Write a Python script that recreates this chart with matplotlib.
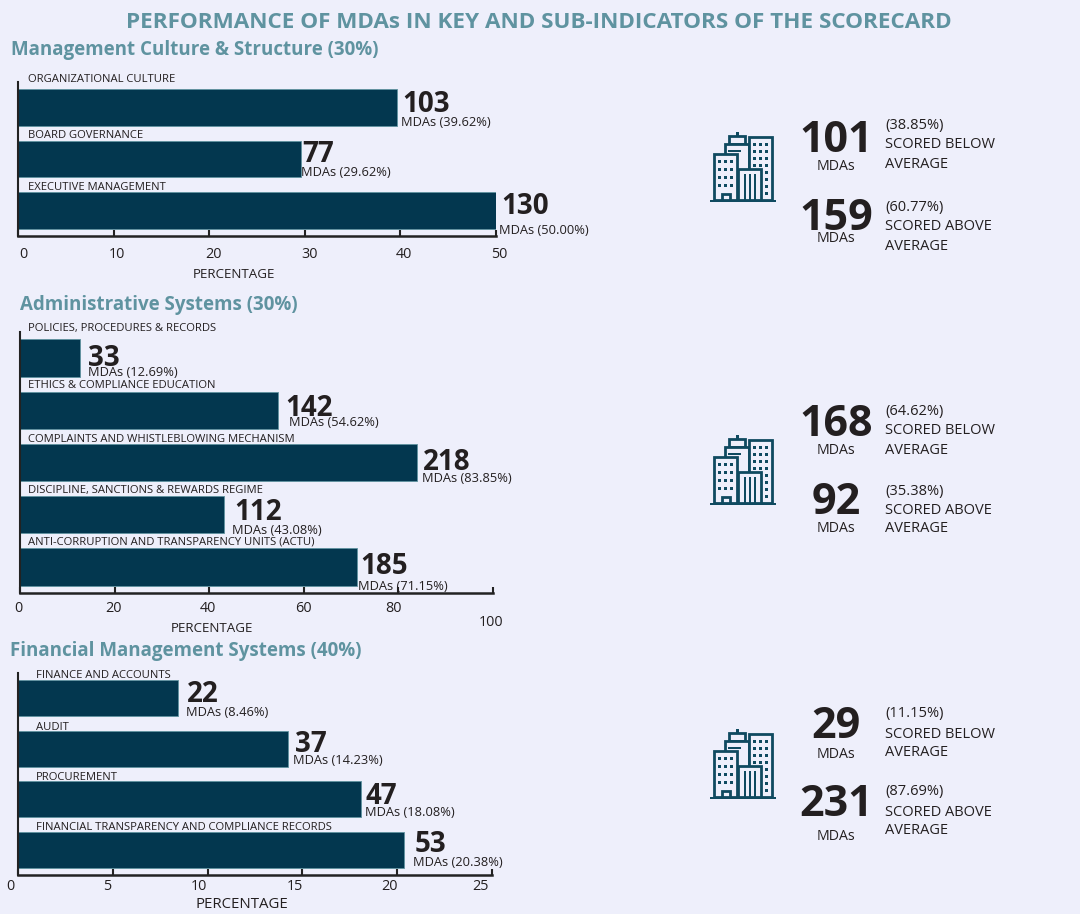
"""Scorecard infographic: MDAs per sub-indicator, three panels plus summary blocks."""

import matplotlib
matplotlib.use("Agg")
import matplotlib.pyplot as plt
from matplotlib.patches import Rectangle

BG = "#EEEFFB"
BAR = "#03374F"
TEAL = "#5F93A0"
INK = "#231F20"
ICON = "#0F4A60"
W, H = 1080, 914

plt.rcParams["font.family"] = ["Open Sans", "DejaVu Sans"]

# --- data ---
title = "PERFORMANCE OF MDAs IN KEY AND SUB-INDICATORS OF THE SCORECARD"

headings = ["Management Culture & Structure (30%)", "Administrative Systems (30%)",
            "Financial Management Systems (40%)"]

culture_labels = ["ORGANIZATIONAL CULTURE", "BOARD GOVERNANCE", "EXECUTIVE MANAGEMENT"]
culture_counts = [103, 77, 130]
culture_pct = [39.62, 29.62, 50.00]
culture_ticks = [0, 10, 20, 30, 40, 50]

admin_labels = ["POLICIES, PROCEDURES & RECORDS", "ETHICS & COMPLIANCE EDUCATION",
                "COMPLAINTS AND WHISTLEBLOWING MECHANISM", "DISCIPLINE, SANCTIONS & REWARDS REGIME",
                "ANTI-CORRUPTION AND TRANSPARENCY UNITS (ACTU)"]
admin_counts = [33, 142, 218, 112, 185]
admin_pct = [12.69, 54.62, 83.85, 43.08, 71.15]
admin_ticks = [0, 20, 40, 60, 80, 100]

finance_labels = ["FINANCE AND ACCOUNTS", "AUDIT", "PROCUREMENT",
                  "FINANCIAL TRANSPARENCY AND COMPLIANCE RECORDS"]
finance_counts = [22, 37, 47, 53]
finance_pct = [8.46, 14.23, 18.08, 20.38]
finance_ticks = [0, 5, 10, 15, 20, 25]

below_counts = [101, 168, 29]
below_pct = [38.85, 64.62, 11.15]
above_counts = [159, 92, 231]
above_pct = [60.77, 35.38, 87.69]

# --- layout, in reference pixels ---
panels = [
    dict(labels=culture_labels, counts=culture_counts, pct=culture_pct, ticks=culture_ticks,
         box=(18, 496, 82, 236), head=(11, 50), xlabel=(234, 274), xlabel_size=9.6,
         label_x=28, label_y=[79, 135, 188],
         num_xy=[(402, 105), (302, 155), (501, 207)],
         sub_xy=[(401, 122), (301, 172), (499, 230)],
         tick_x=[23, 117, 213, 310, 404, 499], tick_y=[254] * 6),
    dict(labels=admin_labels, counts=admin_counts, pct=admin_pct, ticks=admin_ticks,
         box=(20, 493, 332, 593), head=(20, 305), xlabel=(212, 628), xlabel_size=9.6,
         label_x=28, label_y=[329, 386, 439, 490, 542],
         num_xy=[(88, 358), (285, 408), (423, 462), (234, 513), (360, 567)],
         sub_xy=[(88, 373), (289, 423), (422, 478), (232, 530), (358, 586)],
         tick_x=[18, 114, 208, 303, 394, 491], tick_y=[609] * 5 + [622]),
    dict(labels=finance_labels, counts=finance_counts, pct=finance_pct, ticks=finance_ticks,
         box=(18, 492, 673, 875), head=(10, 651), xlabel=(242, 904), xlabel_size=10.8,
         label_x=36, label_y=[675, 727, 777, 827],
         num_xy=[(187, 695), (295, 744), (366, 797), (415, 845)],
         sub_xy=[(186, 712), (293, 761), (365, 813), (413, 862)],
         tick_x=[10, 107, 199, 295, 390, 480], tick_y=[887] * 6),
]

summary_y = [
    dict(num=(140, 219), mdas=(166, 239), below=(125, 145, 165), above=(207, 226, 246), icon=132),
    dict(num=(424, 503), mdas=(451, 528), below=(412, 431, 451), above=(491, 510, 529), icon=435),
    dict(num=(727, 804), mdas=(755, 836), below=(714, 734, 753), above=(792, 812, 831), icon=729),
]


def draw_panel(fig, over, p):
    x0, x1, top, bottom = p["box"]
    ax = fig.add_axes([x0 / W, 1 - bottom / H, (x1 - x0) / W, (bottom - top) / H])
    ax.patch.set_alpha(0)
    y_pos = list(range(len(p["pct"])))
    ax.barh(y_pos, p["pct"], height=0.72, color=BAR, edgecolor=TEAL, linewidth=0.6, zorder=2)
    ax.set_ylim(len(y_pos) - 0.5, -0.5)
    ax.set_xlim(p["ticks"][0], p["ticks"][-1])
    ax.set_yticks([])
    ax.set_xticks(p["ticks"])
    ax.tick_params(axis="x", direction="in", length=4, width=1.5, color="#222222", labelbottom=False)
    for side in ("top", "right"):
        ax.spines[side].set_visible(False)
    ax.spines["left"].set_linewidth(1.5)
    ax.spines["bottom"].set_linewidth(1.8)
    for side in ("left", "bottom"):
        ax.spines[side].set_color("#222222")

    over.text(*p["head"], headings[panels.index(p)], color=TEAL, fontsize=13.5, fontweight="bold",
              va="center", ha="left")
    for label, y in zip(p["labels"], p["label_y"]):
        over.text(p["label_x"], y, label, fontsize=8.1, color=INK, va="center", ha="left")
    for n, (x, y) in zip(p["counts"], p["num_xy"]):
        over.text(x, y, str(n), fontsize=20, fontweight="bold", color=INK, va="center", ha="left")
    for v, (x, y) in zip(p["pct"], p["sub_xy"]):
        over.text(x, y, f"MDAs ({v:.2f}%)", fontsize=9.3, color=INK, va="center", ha="left")
    for t, x, y in zip(p["ticks"], p["tick_x"], p["tick_y"]):
        over.text(x, y, str(t), fontsize=10.4, color=INK, va="center", ha="center")
    over.text(*p["xlabel"], "PERCENTAGE", fontsize=p["xlabel_size"], color=INK, va="center", ha="center")


def draw_icon(over, left, top):
    def rect(x, y, w, h, fill=BG, lw=2.0):
        over.add_patch(Rectangle((left + x, top + y), w, h, facecolor=fill, edgecolor=ICON,
                                 linewidth=lw, zorder=3))

    def dots(xs, ys):
        for x in xs:
            for y in ys:
                rect(x, y, 3, 3, fill=ICON, lw=0)

    rect(26, 0, 2.5, 5, fill=ICON, lw=0)
    rect(19, 4, 16, 8)
    rect(15, 12, 24, 30)
    rect(39, 5, 23, 63)
    dots([43, 49, 55], [11, 18, 25, 32])
    dots([55], [39, 46, 53, 60])
    rect(18, 18, 13, 1.5, fill=ICON, lw=0)
    rect(18, 24, 9, 1.5, fill=ICON, lw=0)
    rect(4, 22, 23, 46)
    dots([8, 14, 20], [28, 36, 44, 52])
    rect(12, 62, 8, 6)
    rect(28, 37, 23, 31)
    for x in (34, 39, 44):
        rect(x, 42, 1.8, 26, fill=ICON, lw=0)
    rect(0, 67.5, 66, 2, fill=ICON, lw=0)


fig = plt.figure(figsize=(W / 100, H / 100), dpi=100, facecolor=BG)
over = fig.add_axes([0, 0, 1, 1], zorder=5)
over.set_xlim(0, W)
over.set_ylim(H, 0)
over.axis("off")
over.patch.set_alpha(0)

over.text(539, 23, title, color=TEAL, fontsize=16.2, fontweight="bold", ha="center", va="center")

for p in panels:
    draw_panel(fig, over, p)

for i, s in enumerate(summary_y):
    draw_icon(over, 710, s["icon"])
    for n, pct, words, ny, my, lines in (
        (below_counts[i], below_pct[i], "BELOW", s["num"][0], s["mdas"][0], s["below"]),
        (above_counts[i], above_pct[i], "ABOVE", s["num"][1], s["mdas"][1], s["above"]),
    ):
        over.text(836, ny, str(n), fontsize=31, fontweight="bold", color=INK, ha="center", va="center")
        over.text(836, my, "MDAs", fontsize=10.2, color=INK, ha="center", va="center")
        over.text(885, lines[0], f"({pct:.2f}%)", fontsize=10.5, color=INK, va="center")
        over.text(885, lines[1], f"SCORED {words}", fontsize=10.5, color=INK, va="center")
        over.text(885, lines[2], "AVERAGE", fontsize=10.5, color=INK, va="center")

fig.savefig("out.png", dpi=100, facecolor=BG)
plt.close(fig)
